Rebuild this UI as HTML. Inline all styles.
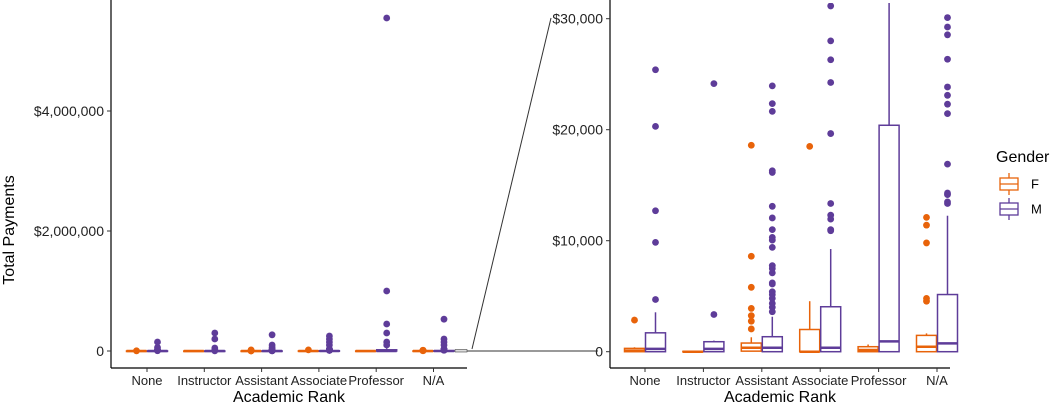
<!DOCTYPE html>
<html><head><meta charset="utf-8"><style>
body{margin:0;background:#fff}
svg{display:block;font-family:"Liberation Sans",Arial,sans-serif}
</style></head><body>
<svg id="c" width="1050" height="405" viewBox="0 0 1050 405">
<defs><clipPath id="rc"><rect x="611" y="3" width="400" height="366"/></clipPath></defs>
<g id="left"></g>
<g id="right"></g>
<g id="axes"></g>
</svg>
<script>
const categories=["None","Instructor","Assistant","Associate","Professor","N/A"];
const genders=["F","M"];
// [q1, median, q3, whiskerLow, whiskerHigh] per category for F and M
const statsF=[[0,100,300,0,400],[0,0,30,0,50],[50,360,780,0,1300],[0,0,2000,0,4550],[0,150,450,0,650],[0,450,1470,0,1650]];
const statsM=[[0,250,1700,0,3550],[0,250,900,0,1000],[0,360,1350,0,3150],[0,360,4050,0,9250],[0,930,20400,0,45000],[0,750,5150,0,12250]];
const outF=[[2850],[],[18600,8600,5800,3900,3250,2750,2050],[18500],[],[12100,11400,9800,4800,4550]];
const outM=[[4700,9850,12700,20300,25400],[3350,24150],[23950,22350,21650,16300,16150,13100,12050,11000,10300,10050,9400,7750,7500,7100,6200,6100,5400,5150,4800,4350,4000,3600],[31150,28000,26300,24250,19650,13350,12300,11950,11000,10900],[],[16900,14300,14150,13500,13350,22300,23100,23850,21450,26350,28550,29250,30100]];
const bigOutF=[[],[],[],[],[],[]];
const bigOutM=[[150000,60000],[300000,200000,50000],[270000,100000,60000],[250000,200000,150000,100000],[5550000,1000000,450000,300000,150000,100000],[530000,200000,150000,100000]];
const yTicksL=[0,2000000,4000000], yTickLabL=["0","$2,000,000","$4,000,000"];
const yTicksR=[0,10000,20000,30000], yTickLabR=["0","$10,000","$20,000","$30,000"];
const colors={F:"#e8630a",M:"#5e3c99"};
const NS="http://www.w3.org/2000/svg";
function mk(p,t,a){const e=document.createElementNS(NS,t);for(const k in a)e.setAttribute(k,a[k]);p.appendChild(e);return e;}
const yL=v=>351-v*60e-6, xL=i=>147+i*57.3;
const yR=v=>351.7-v*0.0111, xR=i=>645+i*58.4;
function panel(g,x,y,outs,clip,hw){
  const inner=mk(g,"g",clip?{"clip-path":"url(#rc)"}:{});
  categories.forEach((c,i)=>{
    genders.forEach((gd,j)=>{
      const s=(gd==="F"?statsF:statsM)[i];
      const cx=x(i)+(j===0?-10.5:10.5), col=colors[gd];
      const wl=mk(inner,"line",{x1:cx,x2:cx,y1:y(s[2]),y2:y(s[4]),stroke:col,"stroke-width":1.5});
      
      
      const top=y(s[2]),bot=y(s[0]);
      const r=mk(inner,"rect",{x:cx-hw,y:top,width:hw*2,height:Math.max(bot-top,0.5),fill:"#fff",stroke:col,"stroke-width":1.5});
      
      
      const m=mk(inner,"line",{x1:cx-hw,x2:cx+hw,y1:y(s[1]),y2:y(s[1]),stroke:col,"stroke-width":2.5});
      
      
      let pts=(gd==="F"?outF:outM)[i].slice();
      if(!clip) pts=pts.concat((gd==="F"?bigOutF:bigOutM)[i]);
      pts.forEach(v=>{
        const d=mk(inner,"circle",{cx:cx,cy:y(v),r:3.4,fill:col});
        
        
      });
    });
  });
}
panel(document.getElementById("left"),xL,yL,null,false,10);
panel(document.getElementById("right"),xR,yR,null,true,10);
const ax=document.getElementById("axes");
function axis(x0,x1,y,yT,yLab,xf,xTitle){
  mk(ax,"line",{x1:x0,x2:x0,y1:0,y2:368,stroke:"#000","stroke-width":1.2});
  mk(ax,"line",{x1:x0,x2:x1,y1:368,y2:368,stroke:"#000","stroke-width":1.2});
  yT.forEach((v,k)=>{
    mk(ax,"line",{x1:x0-4,x2:x0,y1:y(v),y2:y(v),stroke:"#333"});
    const t=mk(ax,"text",{x:x0-7,y:y(v)+5,"text-anchor":"end","font-size":14,fill:"#222"});t.textContent=yLab[k];
    
    
  });
  categories.forEach((c,i)=>{
    mk(ax,"line",{x1:xf(i),x2:xf(i),y1:368,y2:372,stroke:"#333"});
    const t=mk(ax,"text",{x:xf(i),y:385,"text-anchor":"middle","font-size":13,fill:"#222"});t.textContent=c;
    
    
  });
  const t=mk(ax,"text",{x:xTitle,y:402,"text-anchor":"middle","font-size":16,fill:"#000"});t.textContent="Academic Rank";
  
  
}
axis(111,467,yL,yTicksL,yTickLabL,xL,289);
axis(610,950,yR,yTicksR,yTickLabR,xR,780);
const yt=mk(ax,"text",{x:0,y:0,transform:"translate(14,230) rotate(-90)","text-anchor":"middle","font-size":16});yt.textContent="Total Payments";


// zoom connector
mk(ax,"rect",{x:455,y:349.5,width:12,height:2.5,fill:"#ddd",stroke:"#444","stroke-width":0.6});
mk(ax,"line",{x1:467,y1:351,x2:598,y2:351,stroke:"#333","stroke-width":1});
mk(ax,"line",{x1:472,y1:349,x2:551,y2:18,stroke:"#333","stroke-width":1});
// legend
const lt=mk(ax,"text",{x:996,y:162,"font-size":16});lt.textContent="Gender";


genders.forEach((gd,k)=>{
  const cy=184+k*25,col=colors[gd];
  const g=mk(ax,"g",{});
  
  
  mk(g,"line",{x1:1009,x2:1009,y1:cy-11,y2:cy+11,stroke:col,"stroke-width":1.3});
  mk(g,"rect",{x:1000,y:cy-6,width:18,height:12,fill:"#fff",stroke:col,"stroke-width":1.3});
  mk(g,"line",{x1:1000,x2:1018,y1:cy,y2:cy,stroke:col,"stroke-width":1.3});
  const t=mk(g,"text",{x:1031,y:cy+4.5,"font-size":13});t.textContent=gd;
});
</script>
</body></html>
